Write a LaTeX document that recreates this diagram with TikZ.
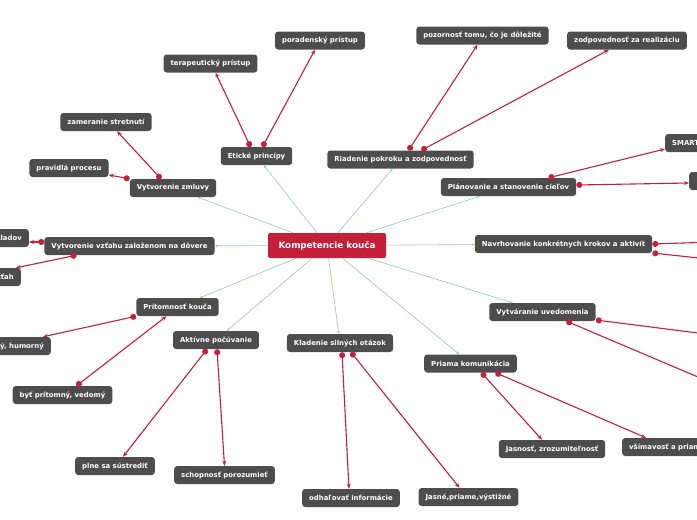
\documentclass[tikz,border=0pt]{standalone}
\usepackage{fontspec}
\setmainfont{DejaVu Sans}
\usetikzlibrary{arrows.meta}
\definecolor{mapred}{HTML}{C41F3B}
\definecolor{mapgray}{HTML}{4D4D4D}
\definecolor{mapgreen}{HTML}{86D2A5}

\begin{document}
\begin{tikzpicture}[
  x=1pt, y=-1pt,
  root/.style={fill=mapred, rounded corners=2pt, text=white,
    font=\bfseries\fontsize{8.8}{10}\selectfont,
    minimum width=118pt, minimum height=25pt, inner sep=0pt},
  topic/.style={fill=mapgray, rounded corners=3pt, text=white,
    font=\bfseries\fontsize{6.9}{8}\selectfont,
    minimum height=18pt, inner xsep=7pt, inner ysep=0pt},
  link/.style={mapgreen, line width=0.6pt, -{Stealth[length=3pt, width=2.5pt]}},
  rel/.style={mapred, line width=1.1pt,
    {Circle[length=6pt]}-{Stealth[length=5pt, width=4pt]}},
]

% Canvas
\useasboundingbox (0,0) rectangle (697,520);
\clip (0,0) rectangle (697,520);

% =============================================
% Central topic and main branches
% =============================================
\node[root] (root) at (327,245.5) {Kompetencie kouča};

\node[topic] (etik) at (256.5,156) {Etické princípy};
\node[topic] (riad) at (400.5,159.5) {Riadenie pokroku a zodpovednosť};
\node[topic] (zmluva) at (173,188) {Vytvorenie zmluvy};
\node[topic] (plan) at (508.5,187) {Plánovanie a stanovenie cieľov};
\node[topic] (vztahu) at (129.5,246) {Vytvorenie vzťahu založenom na dôvere};
\node[topic] (navrh) at (563.5,244) {Navrhovanie konkrétnych krokov a aktivít};
\node[topic] (pritom) at (177.5,307) {Prítomnosť kouča};
\node[topic] (uved) at (542.5,312) {Vytváranie uvedomenia};
\node[topic] (aktiv) at (216,340) {Aktívne počúvanie};
\node[topic] (klad) at (340,343) {Kladenie silných otázok};
\node[topic] (priama) at (470.5,363.5) {Priama komunikácia};

% =============================================
% Sub-topics
% =============================================
\node[topic] (terap) at (210.5,63.5) {terapeutický prístup};
\node[topic] (porad) at (320,40.5) {poradenský prístup};
\node[topic] (zamer) at (106,122) {zameranie stretnutí};
\node[topic] (prav) at (69,168) {pravidlá procesu};
\node[topic] (pozor) at (482.5,35.5) {pozornosť tomu, čo je dôležité};
\node[topic] (zodp) at (627,40.5) {zodpovednosť za realizáciu};
\node[topic, anchor=west] (smart) at (665,143) {SMART};
\node[topic, anchor=west, minimum width=30pt] (ciel) at (689,181) {};
\node[topic, anchor=east] (zaklad) at (29,238) {základov};
\node[topic, anchor=east] (vztah) at (21,277) {vzťah};
\node[topic, anchor=east] (humor) at (51,346) {hravý, humorný};
\node[topic] (byt) at (62.5,395) {byť prítomný, vedomý};
\node[topic] (plne) at (115,466) {plne sa sústrediť};
\node[topic] (schop) at (224.5,475) {schopnosť porozumieť};
\node[topic] (odhal) at (351,498) {odhaľovať informácie};
\node[topic] (jasne) at (468.5,497) {Jasné,priame,výstižné};
\node[topic] (jasnost) at (552,449) {Jasnosť, zrozumiteľnosť};
\node[topic, anchor=west] (vsim) at (622,447) {všímavosť a priamosť};

% branches leaving the canvas on the right
\coordinate (navrhA) at (745,241);
\coordinate (navrhB) at (745,263);
\coordinate (uvedA) at (745,339);
\coordinate (uvedB) at (745,397);

% =============================================
% Green links: root -> main branches
% =============================================
\foreach \t in {etik, riad, zmluva, plan, vztahu, navrh, pritom, uved, aktiv, klad, priama}
  \draw[link] (root) -- (\t);

% =============================================
% Red relations: branches -> sub-topics
% =============================================
\draw[rel] ([xshift=-6pt]etik.north) -- ([xshift=5pt]terap.south);
\draw[rel] ([xshift=6pt]etik.north) -- ([xshift=-5pt]porad.south);

\draw[rel] ([xshift=-12pt]zmluva.north) -- ([xshift=11pt]zamer.south);
\draw[rel] (zmluva.north west) -- ([yshift=-7pt]prav.east);

\draw[rel] ([xshift=8pt]riad.north) -- ([xshift=-5pt]pozor.south);
\draw[rel] ([xshift=21pt]riad.north) -- ([xshift=-18pt]zodp.south);

\draw[rel] ([xshift=40pt]plan.north) -- ([yshift=-6pt]smart.west);
\draw[rel] ([yshift=2pt]plan.east) -- ([yshift=-2pt]ciel.west);

\draw[rel] (navrh.east) -- (navrhA);
\draw[rel] ([yshift=-9pt]navrh.east) -- (navrhB);

\draw[rel] ([yshift=-8pt]uved.east) -- (uvedA);
\draw[rel] ([xshift=24pt]uved.south) -- (uvedB);

\draw[rel] ([xshift=11pt]priama.south) -- ([xshift=-10pt]jasnost.north);
\draw[rel] ([xshift=25pt]priama.south) -- ([xshift=24pt]vsim.north west);

\draw[rel] ([xshift=2pt]klad.south) -- ([xshift=-2pt]odhal.north);
\draw[rel] ([xshift=11pt]klad.south) -- ([xshift=-9pt]jasne.north);

\draw[rel] ([xshift=-9pt]aktiv.south) -- ([xshift=8pt]plne.north);
\draw[rel] ([xshift=1pt]aktiv.south) -- (schop.north);

\draw[rel] (pritom.south west) -- ([xshift=-8pt]humor.north east);
\draw[rel] ([xshift=14pt]byt.north) -- ([xshift=-11pt]pritom.south);

\draw[rel] ([yshift=4pt]vztahu.west) -- ([yshift=-4pt]zaklad.east);
\draw[rel] ([xshift=-53pt]vztahu.south) -- ([xshift=-5pt]vztah.north east);

\end{tikzpicture}
\end{document}
